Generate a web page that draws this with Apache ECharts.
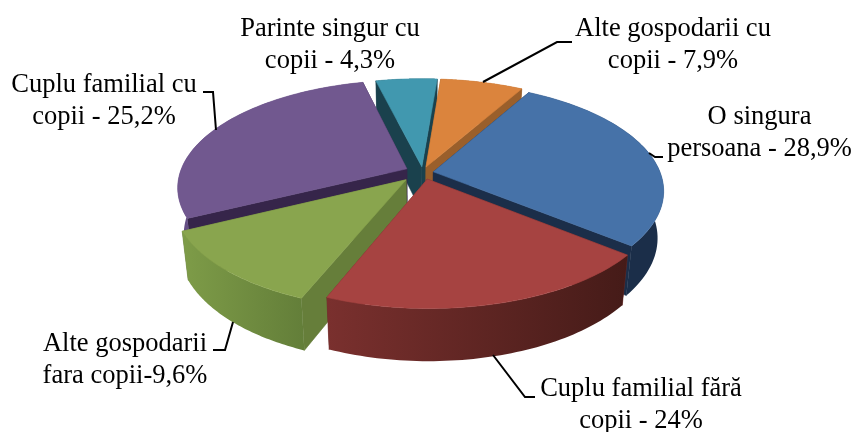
<!DOCTYPE html>
<html><head><meta charset="utf-8">
<style>html,body{margin:0;padding:0;background:#fff}#c{width:854px;height:432px}</style>
<script src="https://cdn.jsdelivr.net/npm/echarts@6/dist/echarts.min.js"></script>
</head><body><div id="c"></div>
<script>
// Printed labels, verbatim from the picture.
const sliceLabels = [
  "O singura\npersoana - 28,9%",
  "Cuplu familial fără\ncopii - 24%",
  "Alte gospodarii\nfara copii-9,6%",
  "Cuplu familial cu\ncopii - 25,2%",
  "Parinte singur cu\ncopii - 4,3%",
  "Alte gospodarii cu\ncopii - 7,9%"
];
// Wedge shares (% of the full circle) as measured from the drawn wedges; in the
// reference these differ from the printed percentages, so they are kept apart.
const sliceShares = [27.7, 20.2, 11.6, 28.5, 5.1, 6.9];
const topColors  = ["#4672A8", "#A64341", "#89A54E", "#71588F", "#4198AF", "#DB843D"];
const wallColors = ["#1B2E49", "#6B2A28", "#667E3A", "#36254A", "#1A414D", "#9A5F2B"];
const rimFrom    = ["#1B2E49", "#7A302E", "#7E9C48", "#654F85", "#1A414D", "#9A5F2B"];
const rimTo      = ["#1B2E49", "#451B18", "#637E39", "#5A4676", "#1A414D", "#9A5F2B"];
const explodeNudgeX = [0, 0.017, -0.02, -0.004, 0.013, 0.009];
const explodeNudgeY = [0, 0, -0.02, 0.015, 0, 0];
const drawOrder  = [4, 5, 3, 0, 2, 1];

const startAngle = 29.5, cx = 420, cy = 173, rx = 227, ry = 105;
const persp = 0.17, explode = 0.06, depth = 46, shrink = 0.025;

const starts = [];
sliceShares.reduce((a, v, i) => { starts[i] = a; return a + v * 3.6; }, startAngle);
const rad = d => d * Math.PI / 180;

function project(X, Y, z) {
  const w = 1 / (1 + persp * Y), f = 1 - shrink * z;
  return [cx + X * rx * w * f, cy - Y * ry * w * f + depth * z * w];
}
function renderItem(params, api) {
  const i = api.value(0);
  const a0 = starts[i], a1 = a0 + sliceShares[i] * 3.6, mid = (a0 + a1) / 2;
  const ox = explode * Math.sin(rad(mid)) + explodeNudgeX[i], oy = explode * Math.cos(rad(mid)) + explodeNudgeY[i];
  const rimPt = (a, z) => project(ox + Math.sin(rad(a)), oy + Math.cos(rad(a)), z);
  const apex = z => project(ox, oy, z);
  const arc = z => { const p = []; const n = 60; for (let k = 0; k <= n; k++) p.push(rimPt(a0 + (a1 - a0) * k / n, z)); return p; };
  const poly = (points, fill, stroke) => ({
    type: 'polygon', shape: { points },
    style: { fill, stroke: stroke || fill, lineWidth: 0.6 }
  });
  const wallOf = a => poly([apex(0), rimPt(a, 0), rimPt(a, 1), apex(1)], wallColors[i]);
  const walls = Math.cos(rad(a0)) > Math.cos(rad(a1)) ? [wallOf(a0), wallOf(a1)] : [wallOf(a1), wallOf(a0)];
  const top = arc(0), bottom = arc(1).reverse();
  const grad = new echarts.graphic.LinearGradient(0, 0, 1, 0, [
    { offset: 0, color: rimFrom[i] }, { offset: 1, color: rimTo[i] }]);
  const rim = poly(top.concat(bottom), grad, 'rgba(0,0,0,0)');
  const face = poly([apex(0)].concat(top), topColors[i]);
  return { type: 'group', children: walls.concat([rim, face]) };
}
const labelFont = { fontFamily: '"Liberation Serif","Times New Roman",serif', fontSize: 26.5, lineHeight: 32, fill: '#000', align: 'center', verticalAlign: 'middle' };
const labelAt = [[759.5, 133], [641, 405], [125, 360], [104, 101], [330, 45], [673, 45]];
const leaders = [
  [[649, 153], [655, 157], [663, 157]],
  [[493, 355], [525, 397], [535, 397]],
  [[233, 322], [225, 350], [213, 350]],
  [[216, 130], [213, 92], [203, 92]],
  null,
  [[483, 82], [557, 42], [572, 42]]
];
const graphics = [];
sliceLabels.forEach((t, i) => {
  graphics.push({ type: 'text', x: labelAt[i][0], y: labelAt[i][1], z: 5, style: Object.assign({ text: t }, labelFont) });
  if (leaders[i]) graphics.push({ type: 'polyline', z: 5, shape: { points: leaders[i] }, style: { stroke: '#000', lineWidth: 2, fill: null } });
});
const chart = echarts.init(document.getElementById('c'), null, { renderer: 'canvas' });
chart.setOption({
  animation: false,
  backgroundColor: '#fff',
  series: [{ type: 'custom', coordinateSystem: 'none', renderItem, clip: false,
    data: drawOrder.map(i => [i, sliceShares[i]]) }],
  graphic: { elements: graphics }
});
</script></body></html>
